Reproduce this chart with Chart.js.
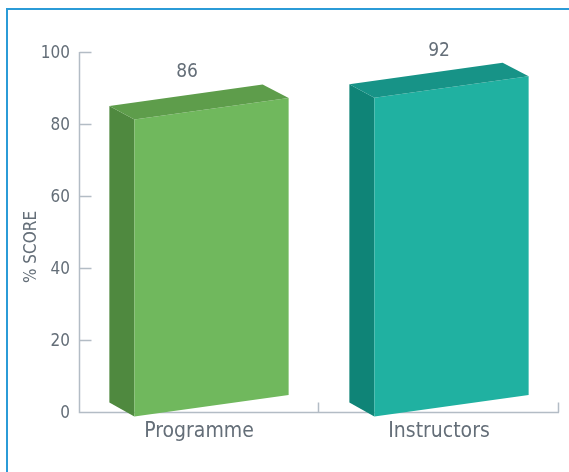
<!DOCTYPE html>
<html>
<head>
<meta charset="utf-8">
<script src="https://cdn.jsdelivr.net/npm/chart.js@4/dist/chart.umd.min.js"></script>
<style>
  html, body { margin: 0; padding: 0; background: #fff; overflow: hidden; }
  #frame { position: absolute; left: 6px; top: 8px; width: 700px; height: 600px;
           border-top: 2px solid #2b9bd7; border-left: 2px solid #2b9bd7; }
  #chart { position: absolute; left: 0; top: 0; }
</style>
</head>
<body>
<div id="frame"></div>
<canvas id="chart" width="569" height="472"></canvas>
<script>
const categories = ['Programme', 'Instructors'];
const scores = [86, 92];
const yTicks = [0, 20, 40, 60, 80, 100];
const yTitle = '% SCORE';
const frontColors = ['#70b85d', '#20b1a1'];
const sideColors = ['#4f893f', '#0f8477'];
const topColors = ['#5e9d4b', '#179387'];

const textColor = '#646e78';
const axisColor = '#b3bcc5';
const fontFamily = "'Liberation Sans Narrow', 'DejaVu Sans Condensed', sans-serif";

function poly(ctx, pts, color) {
    ctx.beginPath();
    ctx.moveTo(pts[0][0], pts[0][1]);
    for (let k = 1; k < pts.length; k++) ctx.lineTo(pts[k][0], pts[k][1]);
    ctx.closePath();
    ctx.fillStyle = color;
    ctx.fill();
}

// axis lines with inward tick marks, plus the axis title
const axesPlugin = {
    id: 'axes',
    beforeDatasetsDraw(chart) {
        const ctx = chart.ctx;
        const xs = chart.scales.x, ys = chart.scales.y;
        const left = Math.round(xs.left) + 0.5;
        const bottom = Math.round(ys.bottom) + 0.5;
        ctx.save();
        ctx.strokeStyle = axisColor;
        ctx.lineWidth = 1.5;
        ctx.beginPath();
        ctx.moveTo(left, Math.round(ys.top));
        ctx.lineTo(left, bottom);
        ctx.lineTo(Math.round(xs.right), bottom);
        yTicks.forEach(v => {
            if (v === 0) return;
            const py = Math.round(ys.getPixelForValue(v)) + 0.5;
            ctx.moveTo(left, py);
            ctx.lineTo(left + 12, py);
        });
        const step = (xs.right - xs.left) / categories.length;
        for (let i = 1; i <= categories.length; i++) {
            const px = Math.round(xs.left + step * i) - 0.5;
            ctx.moveTo(px, bottom);
            ctx.lineTo(px, bottom - 10);
        }
        ctx.stroke();

        // rotated title, sitting a little below the middle of the axis
        ctx.translate(32, (ys.top + ys.bottom) / 2 + 15);
        ctx.rotate(-Math.PI / 2);
        ctx.fillStyle = textColor;
        ctx.font = '17px ' + fontFamily;
        ctx.textAlign = 'center';
        ctx.textBaseline = 'middle';
        ctx.fillText(yTitle, 0, 0);
        ctx.restore();
    }
};

// 3d boxes drawn over the (transparent) bar elements
const boxPlugin = {
    id: 'boxes',
    afterDatasetsDraw(chart) {
        const ctx = chart.ctx;
        const meta = chart.getDatasetMeta(0);
        ctx.save();
        meta.data.forEach((bar, i) => {
            const p = bar.getProps(['x', 'y', 'base', 'width'], true);
            const L = p.x - p.width / 2, R = p.x + p.width / 2;
            const d = 25;
            const fl = L + d;
            const fTL = [fl, p.y + 17], fTR = [R, p.y - 4.5];
            const fBR = [R, p.base - 17], fBL = [fl, p.base + 4.5];
            const bTL = [L, p.y + 3.5], bBL = [L, p.base - 9.5];
            const bTR = [R - d - 1, p.y - 18];
            poly(ctx, [bTL, fTL, fBL, bBL], sideColors[i]);
            poly(ctx, [fTL, fTR, fBR, fBL], frontColors[i]);
            poly(ctx, [bTL, bTR, fTR, fTL], topColors[i]);

            ctx.fillStyle = textColor;
            ctx.font = '19px ' + fontFamily;
            ctx.textAlign = 'center';
            ctx.textBaseline = 'middle';
            ctx.fillText(String(scores[i]), p.x - (i === 0 ? 12 : 0), p.y - 30);
        });
        ctx.restore();
    }
};

new Chart(document.getElementById('chart'), {
    type: 'bar',
    data: {
        labels: categories,
        datasets: [{
            data: scores,
            backgroundColor: 'rgba(0,0,0,0)',
            borderWidth: 0,
            barPercentage: 0.747,
            categoryPercentage: 1
        }]
    },
    options: {
        responsive: false,
        animation: false,
        events: [],
        layout: { padding: { top: 52, right: 10, left: 0, bottom: 0 } },
        plugins: {
            legend: { display: false },
            tooltip: { enabled: false }
        },
        scales: {
            x: {
                grid: { display: false, drawTicks: false },
                border: { display: false },
                ticks: {
                    color: textColor,
                    padding: 7,
                    font: { family: fontFamily, size: 21 }
                },
                afterFit: s => { s.height = 60; }
            },
            y: {
                min: 0,
                max: 100,
                afterBuildTicks: s => { s.ticks = yTicks.map(v => ({ value: v })); },
                grid: { display: false, drawTicks: false },
                border: { display: false },
                ticks: {
                    color: textColor,
                    padding: 9,
                    labelOffset: 2,
                    font: { family: fontFamily, size: 17 }
                },
                afterFit: s => { s.width = 79; }
            }
        }
    },
    plugins: [axesPlugin, boxPlugin]
});
</script>
</body>
</html>
